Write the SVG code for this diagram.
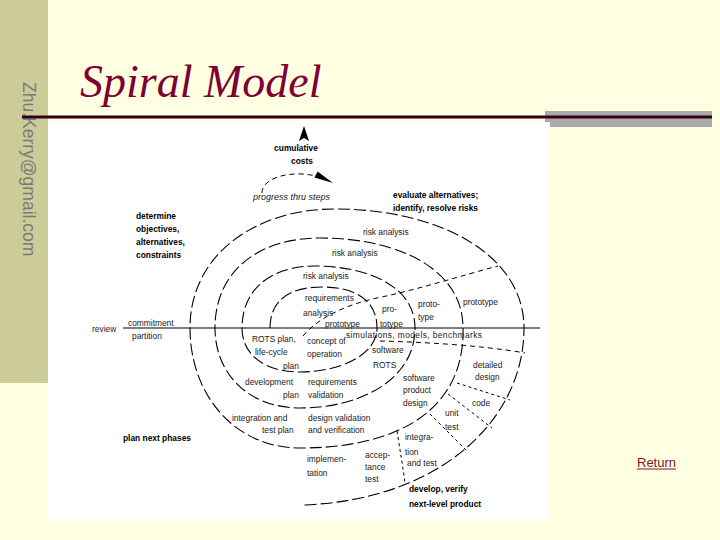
<svg xmlns="http://www.w3.org/2000/svg" width="720" height="540" viewBox="0 0 720 540">
<defs>
<style>
.t{font-family:"Liberation Sans",Arial,sans-serif;font-size:8.4px;fill:#222}
.b{font-family:"Liberation Sans",Arial,sans-serif;font-size:8.4px;font-weight:bold;fill:#000}
.i{font-family:"Liberation Sans",Arial,sans-serif;font-size:9px;font-style:italic;fill:#222}
.sp{fill:none;stroke:#000;stroke-width:1.1;stroke-dasharray:12 4}
.pd{fill:none;stroke:#000;stroke-width:1;stroke-dasharray:5 4}
.rd{fill:none;stroke:#000;stroke-width:1;stroke-dasharray:3 3}
</style>
</defs>
<rect width="720" height="540" fill="#FFFFE1"/>
<rect x="0" y="0" width="48" height="383" fill="#CCCC99"/>
<text transform="translate(23,82) rotate(90)" font-family="Liberation Sans, Arial, sans-serif" font-size="17.5" fill="#7A7A7A">Zhu.Kerry@gmail.com</text>
<text x="80" y="97" font-family="Liberation Serif, Times New Roman, serif" font-style="italic" font-size="46" fill="#800033">Spiral Model</text>
<rect x="545" y="111" width="167" height="16" fill="#ABABAB"/>
<line x1="22" y1="117" x2="712" y2="117" stroke="#330019" stroke-width="3"/>
<rect x="48" y="122" width="502" height="398" fill="#FFFFFF"/>

<g id="connectors">
<line x1="123" y1="328" x2="540" y2="328" stroke="#000" stroke-width="1.2"/>
<path class="sp" d="M270,328 C270,300 290,287 322,287 C355,287 377,300 377,328 C377,355 340,372 300,372 C265,372 242,355 242,328 C242,290 270,266 315,266 C365,266 415,285 415,328 C415,380 360,408 300,408 C250,408 215,375 215,328 C215,270 260,238 320,238 C400,238 463,270 463,328 C465,405 405,448 300,448 C235,448 190,395 190,328 C190,255 255,209 335,209 C440,209 524,255 524,328 C524,420 440,500 303,505"/>
<path class="pd" d="M262,193 C262,180 282,173 302,174 C313,175 318,176 322,178"/>
<polygon points="333,183 317.6,171.4 314.4,177.6" fill="#000"/>
<polygon points="304,126 309,141 304,138 299,141" fill="#000"/>
<path class="pd" d="M303,336 C318,318 345,305 377,298 C420,289 460,276 498,266"/>
<path class="pd" d="M380,341 C420,342 480,345 525,353"/>
<path class="rd" d="M457,383 L510,400"/>
<path class="rd" d="M448,394 L492,428"/>
<path class="rd" d="M430,414 L466,450"/>
<path class="rd" d="M397,431 C400,450 403,468 405,483"/>
</g>

<g id="cost">
<text class="b" x="296" y="151" text-anchor="middle">cumulative</text>
<text class="b" x="302" y="164" text-anchor="middle">costs</text>
</g>
<g id="progress"><text class="i" x="253" y="200">progress thru steps</text></g>
<g id="evaluate">
<text class="b" x="393" y="198">evaluate alternatives;</text>
<text class="b" x="393" y="211">identify, resolve risks</text>
</g>
<g id="determine">
<text class="b" x="136" y="219">determine</text>
<text class="b" x="136" y="232">objectives,</text>
<text class="b" x="136" y="245">alternatives,</text>
<text class="b" x="136" y="258">constraints</text>
</g>
<g id="plan-next"><text class="b" x="123" y="441">plan next phases</text></g>
<g id="develop">
<text class="b" x="409" y="492">develop, verify</text>
<text class="b" x="409" y="507">next-level product</text>
</g>
<g id="risk">
<text class="t" x="363" y="235">risk analysis</text>
<text class="t" x="332" y="256">risk analysis</text>
<text class="t" x="303" y="279">risk analysis</text>
</g>
<g id="req-analysis">
<text class="t" x="305" y="301">requirements</text>
<text class="t" x="303" y="316">analysis</text>
</g>
<g id="prototypes">
<text class="t" x="325" y="327">prototype</text>
<text class="t" x="382" y="312">pro-</text>
<text class="t" x="380" y="327">totype</text>
<text class="t" x="418" y="307">proto-</text>
<text class="t" x="418" y="320">type</text>
<text class="t" x="463" y="305">prototype</text>
</g>
<g id="simulations"><text class="t" x="346" y="338" textLength="136">simulations, models, benchmarks</text></g>
<g id="review">
<text class="t" x="92" y="332">review</text>
<text class="t" x="128" y="326">commitment</text>
<text class="t" x="132" y="339">partition</text>
</g>
<g id="rots-plan">
<text class="t" x="252" y="342">ROTS plan,</text>
<text class="t" x="255" y="355">life-cycle</text>
<text class="t" x="283" y="369">plan</text>
</g>
<g id="concept">
<text class="t" x="307" y="344">concept of</text>
<text class="t" x="307" y="357">operation</text>
</g>
<g id="software-rots">
<text class="t" x="372" y="353">software</text>
<text class="t" x="373" y="368">ROTS</text>
</g>
<g id="product-design">
<text class="t" x="403" y="381">software</text>
<text class="t" x="403" y="393">product</text>
<text class="t" x="403" y="406">design</text>
</g>
<g id="detailed-design">
<text class="t" x="473" y="368">detailed</text>
<text class="t" x="475" y="380">design</text>
</g>
<g id="code"><text class="t" x="472" y="406">code</text></g>
<g id="unit-test">
<text class="t" x="445" y="416">unit</text>
<text class="t" x="445" y="430">test</text>
</g>
<g id="integration-test">
<text class="t" x="405" y="440">integra-</text>
<text class="t" x="405" y="455">tion</text>
<text class="t" x="407" y="466">and test</text>
</g>
<g id="acceptance">
<text class="t" x="365" y="458">accep-</text>
<text class="t" x="365" y="470">tance</text>
<text class="t" x="365" y="482">test</text>
</g>
<g id="implementation">
<text class="t" x="307" y="462">implemen-</text>
<text class="t" x="307" y="476">tation</text>
</g>
<g id="req-validation">
<text class="t" x="308" y="385">requirements</text>
<text class="t" x="308" y="398">validation</text>
</g>
<g id="dev-plan">
<text class="t" x="245" y="385">development</text>
<text class="t" x="283" y="398">plan</text>
</g>
<g id="int-plan">
<text class="t" x="232" y="421">integration and</text>
<text class="t" x="262" y="433">test plan</text>
</g>
<g id="design-validation">
<text class="t" x="308" y="421">design validation</text>
<text class="t" x="308" y="433">and verification</text>
</g>
<g id="return">
<text x="637" y="467" font-family="Liberation Sans, Arial, sans-serif" font-size="13" fill="#7A1530">Return</text>
<line x1="637" y1="469" x2="676" y2="469" stroke="#7A1530" stroke-width="1"/>
</g>
</svg>
